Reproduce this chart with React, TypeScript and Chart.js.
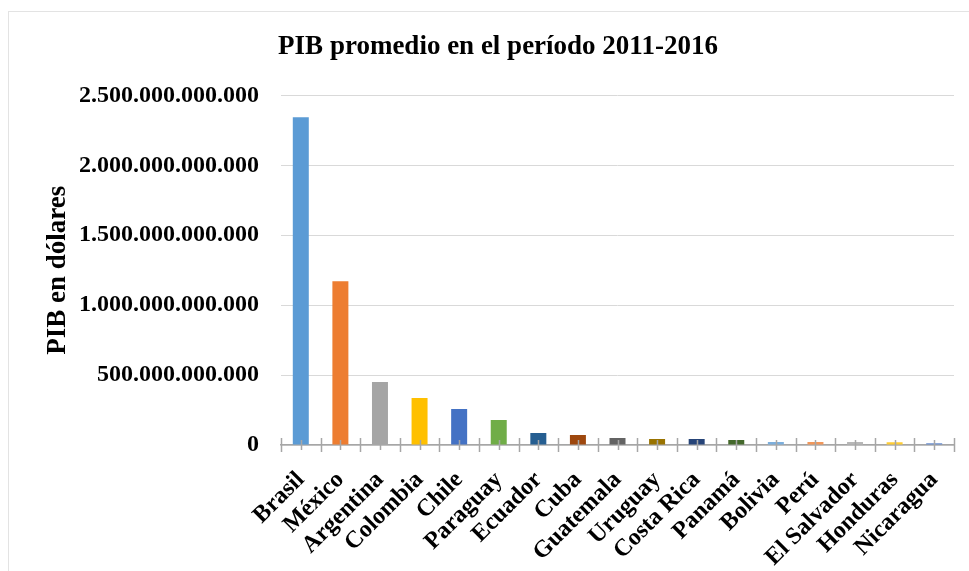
import React, { useEffect, useRef } from "react";
import { Chart, registerables } from "chart.js";

Chart.register(...registerables);

const categories = [
  "Brasil", "México", "Argentina", "Colombia", "Chile", "Paraguay", "Ecuador", "Cuba",
  "Guatemala", "Uruguay", "Costa Rica", "Panamá", "Bolivia", "Perú", "El Salvador",
  "Honduras", "Nicaragua",
];

const gdpValues = [
  2343e9, 1171e9, 450e9, 336e9, 257e9, 179e9, 86e9, 71e9,
  50e9, 43e9, 43e9, 36e9, 22e9, 21e9, 21e9, 20e9, 13e9,
];

const barColors = [
  "#5B9BD5", "#ED7D31", "#A5A5A5", "#FFC000", "#4472C4", "#70AD47", "#255E91", "#9E480E",
  "#636363", "#997300", "#264478", "#43682B", "#7CAFDD", "#F1975A", "#B7B7B7", "#FFCD33",
  "#698ED0",
];

const yMax = 2500e9;
const yStep = 500e9;

const chartTitle = "PIB promedio en el período 2011-2016";
const yAxisTitle = "PIB en dólares";

const fmt = (v: number) =>
  Math.round(v).toString().replace(/\B(?=(\d{3})+(?!\d))/g, ".");

const FONT = "'Liberation Serif', 'Times New Roman', serif";

const tickMarks = {
  id: "tickMarks",
  afterDatasetsDraw(chart: any) {
    const ctx = chart.ctx;
    const xs = chart.scales.x;
    const y0 = chart.scales.y.getPixelForValue(0);
    const n = categories.length;
    ctx.save();
    ctx.strokeStyle = "#a6a6a6";
    ctx.lineWidth = 1.5;
    ctx.beginPath();
    for (let i = 0; i <= n; i++) {
      const bx = Math.round(xs.getPixelForValue(i - 0.5)) + 0.5;
      ctx.moveTo(bx, y0 - 7);
      ctx.lineTo(bx, y0 + 7);
    }
    for (let i = 0; i < n; i++) {
      const cx = Math.round(xs.getPixelForValue(i)) + 0.5;
      ctx.moveTo(cx, y0 - 5);
      ctx.lineTo(cx, y0 + 5);
    }
    ctx.stroke();
    ctx.restore();
  },
};

export default function App() {
  const ref = useRef<HTMLCanvasElement>(null);

  useEffect(() => {
    if (!ref.current) return;
    const chart = new Chart(ref.current, {
      type: "bar",
      data: {
        labels: categories,
        datasets: [
          {
            data: gdpValues,
            backgroundColor: barColors,
            borderWidth: 0,
            barPercentage: 0.404,
            categoryPercentage: 1,
          },
        ],
      },
      options: {
        animation: false,
        responsive: false,
        maintainAspectRatio: false,
        layout: { padding: { left: 42, right: 15, top: 0, bottom: 0 } },
        plugins: {
          legend: { display: false },
          tooltip: { enabled: false },
          title: {
            display: true,
            text: chartTitle,
            color: "#000",
            font: { family: FONT, size: 27, weight: "bold" },
            padding: { top: 31, bottom: 32 },
          },
        },
        scales: {
          x: {
            offset: true,
            grid: { display: false, drawTicks: false },
            border: { display: true, color: "#a6a6a6", width: 1.5 },
            afterFit: (scale: any) => {
              scale.height = 126;
              scale.paddingLeft = 0;
              scale.paddingRight = 0;
            },
            ticks: {
              autoSkip: false,
              maxRotation: 45,
              minRotation: 45,
              padding: 21,
              color: "#000",
              font: { family: FONT, size: 24, weight: "bold" },
            },
          },
          y: {
            min: 0,
            max: yMax,
            grid: { color: "#d9d9d9", lineWidth: 1, drawTicks: false },
            border: { display: false },
            afterFit: (scale: any) => {
              scale.width = 239;
            },
            ticks: {
              stepSize: yStep,
              padding: 22,
              color: "#000",
              font: { family: FONT, size: 24, weight: "bold" },
              callback: (v: any) => fmt(Number(v)),
            },
            title: {
              display: true,
              text: yAxisTitle,
              color: "#000",
              font: { family: FONT, size: 27, weight: "bold" },
              padding: { top: 0, bottom: 7 },
            },
          },
        },
      },
      plugins: [tickMarks],
    });
    return () => chart.destroy();
  }, []);

  return (
    <div style={{ position: "fixed", left: 0, top: 0, width: 969, height: 571, overflow: "hidden", background: "#fff" }}>
      <div
        style={{
          position: "absolute",
          left: 8,
          top: 11,
          width: 1100,
          height: 700,
          border: "1px solid #e3e3e3",
        }}
      />
      <canvas ref={ref} width={969} height={571} style={{ position: "absolute", left: 0, top: 0, width: 969, height: 571 }} />
    </div>
  );
}
